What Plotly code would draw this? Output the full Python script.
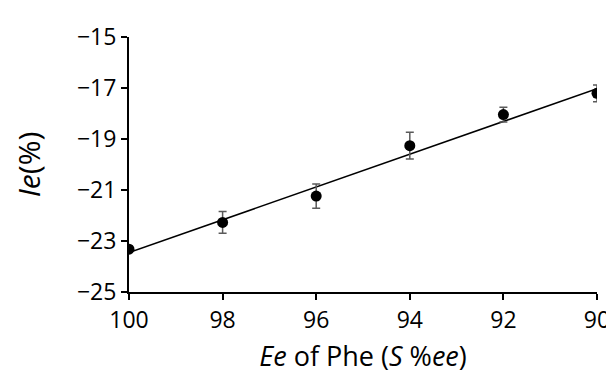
import plotly.graph_objects as go

# Data
ee_x = [100, 98, 96, 94, 92, 90]
ie_y = [-23.32, -22.27, -21.24, -19.26, -18.04, -17.21]
ie_err = [0.0, 0.43, 0.48, 0.52, 0.29, 0.33]

trend_x = [100, 90]
trend_y = [-23.45, -17.03]

x_ticks = [100, 98, 96, 94, 92, 90]
y_ticks = [-25, -23, -21, -19, -17, -15]

FONT = "Open Sans"

fig = go.Figure()
fig.add_trace(go.Scatter(
    x=trend_x, y=trend_y, mode="lines",
    line=dict(color="black", width=1.6),
    showlegend=False, hoverinfo="skip"))
fig.add_trace(go.Scatter(
    x=ee_x, y=ie_y, mode="markers",
    marker=dict(color="black", size=11),
    error_y=dict(type="data", array=ie_err, visible=True,
                 color="#5a5a5a", thickness=1.5, width=4),
    showlegend=False))

fig.update_layout(
    width=614, height=376,
    margin=dict(l=121, r=19, t=22, b=92),
    paper_bgcolor="white", plot_bgcolor="white",
    font=dict(family=FONT, color="black", size=22),
    xaxis=dict(
        range=[100, 90], tickvals=x_ticks,
        showline=True, linecolor="black", linewidth=2,
        ticks="outside", ticklen=6, tickwidth=2, tickcolor="black",
        showgrid=False, zeroline=False,
        tickfont=dict(size=23, family=FONT),
        title=dict(text="<i>Ee</i> of Phe (<i>S</i> %<i>ee</i>)",
                   font=dict(size=27, family=FONT), standoff=14),
    ),
    yaxis=dict(
        range=[-25, -15], tickvals=y_ticks,
        showline=True, linecolor="black", linewidth=2,
        ticks="outside", ticklen=6, tickwidth=2, tickcolor="black",
        showgrid=False, zeroline=False,
        tickfont=dict(size=23, family=FONT),
        title=dict(text="<i>Ie</i>(%)", font=dict(size=30, family=FONT), standoff=28),
    ),
)

fig.write_html("out.html")
